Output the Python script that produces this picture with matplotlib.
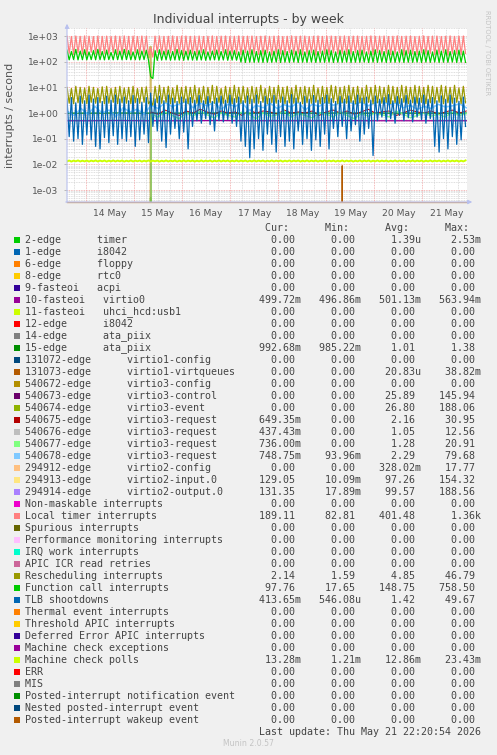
# Munin "Individual interrupts - by week" recreation
import matplotlib
matplotlib.use("Agg")
import matplotlib.pyplot as plt
from matplotlib.patches import Rectangle
import pandas as pd

W, H = 497, 755

# ---- data ----
start = "2026-05-13 14:30"
t_fast = pd.date_range(start, periods=182, freq="66min")
t_mid = pd.date_range(start, periods=58, freq="210min")
t_slow = pd.date_range(start, periods=17, freq="750min")

local_timer = [
    990, 210, 960, 190, 1000, 220, 970, 200, 1010, 180, 980, 230, 950, 200,
    1000, 190, 970, 210, 990, 200, 960, 220, 1000, 190, 980, 210, 1010, 200,
    970, 180, 990, 220, 960, 200, 1000, 210, 980, 190, 340, 150, 990, 230,
    1000, 200, 970, 190, 980, 220, 1010, 200, 960, 210, 990, 180, 1000, 200,
    970, 210, 990, 190, 1000, 220, 960, 200, 980, 210, 1010, 190, 970, 200,
    990, 220, 1000, 180, 960, 210, 980, 200, 1010, 190, 970, 220, 990, 200,
    1000, 210, 960, 190, 980, 200, 1010, 220, 970, 180, 990, 210, 1000, 200,
    960, 190, 980, 220, 1010, 200, 970, 210, 990, 190, 1000, 200, 960, 220,
    980, 180, 1010, 210, 970, 200, 990, 190, 1000, 220, 960, 200, 980, 210,
    1010, 190, 970, 200, 990, 220, 1000, 180, 960, 210, 980, 200, 1010, 190,
    970, 220, 990, 200, 1000, 210, 960, 190, 980, 200, 1010, 220, 970, 180,
    990, 210, 1000, 200, 960, 190, 980, 220, 1010, 200, 970, 210, 990, 190,
    1000, 200, 960, 220, 980, 180, 1010, 210, 970, 200, 990, 190, 1000, 210,
]

function_call = [
    280, 118, 250, 120, 300, 117, 260, 119, 290, 118, 240, 120, 270, 118,
    300, 119, 250, 117, 280, 120, 230, 118, 290, 119, 260, 118, 300, 120,
    270, 118, 240, 119, 290, 117, 260, 120, 280, 118, 26, 22, 270, 112,
    290, 115, 260, 117, 280, 114, 250, 116, 300, 115, 270, 113, 260, 116,
    280, 115, 250, 114, 270, 116, 290, 113, 240, 115, 260, 117, 280, 114,
    250, 116, 290, 113, 260, 115, 270, 114, 240, 96, 280, 93, 260, 95,
    290, 94, 250, 96, 270, 93, 280, 95, 240, 94, 260, 96, 290, 93,
    270, 95, 250, 94, 280, 96, 260, 93, 290, 95, 240, 94, 270, 96,
    280, 93, 250, 95, 260, 94, 290, 96, 270, 93, 240, 95, 280, 94,
    260, 96, 290, 93, 250, 95, 270, 94, 280, 96, 240, 93, 260, 95,
    290, 94, 270, 96, 250, 93, 280, 95, 260, 94, 240, 96, 290, 93,
    270, 95, 280, 94, 250, 96, 260, 93, 290, 95, 270, 94, 240, 96,
    280, 93, 260, 95, 290, 94, 250, 96, 270, 93, 280, 95, 260, 94,
]

rescheduling = [
    10, 2.4, 9, 2.3, 11, 2.5, 10, 2.4, 9.5, 2.3, 11, 2.6, 10, 2.4,
    9, 2.5, 10.5, 2.3, 11, 2.4, 9, 2.6, 10, 2.3, 11, 2.5, 9.5, 2.4,
    10, 2.3, 11, 2.5, 9, 2.4, 10, 2.6, 10.5, 2.3, 3, 2.0, 11, 2.5,
    12, 2.4, 10, 2.6, 11, 2.3, 9.5, 2.5, 12, 2.4, 10, 2.6, 11, 2.3,
    10, 2.5, 12, 2.4, 9.5, 2.6, 11, 2.3, 10, 2.5, 12, 2.4, 11, 2.6,
    9, 2.4, 11, 2.5, 10, 2.3, 12, 2.6, 10, 2.4, 11, 2.5, 9.5, 2.3,
    11, 2.5, 10, 2.4, 12, 2.6, 9, 2.3, 11, 2.5, 10, 2.4, 12, 2.6,
    10, 2.3, 11, 2.5, 9.5, 2.4, 12, 2.6, 10, 2.3, 11, 2.5, 10, 2.4,
    12, 2.6, 9.5, 2.3, 11, 2.5, 10, 2.4, 12, 2.6, 11, 2.3, 10, 2.5,
    11, 2.4, 12, 2.6, 10, 2.3, 11, 2.5, 9.5, 2.4, 12, 2.6, 10, 2.3,
    12, 2.5, 11, 2.4, 10, 2.6, 12, 2.3, 11, 2.5, 10, 2.4, 12, 2.6,
    11, 2.3, 10, 2.5, 12, 2.4, 11, 2.6, 10, 2.3, 12, 2.5, 11, 2.4,
    10, 2.6, 12, 2.3, 11, 2.5, 10, 2.4, 12, 2.6, 9.5, 2.3, 11, 2.5,
]

tlb_shootdowns = [
    3.5, 0.12, 4.0, 0.08, 2.5, 0.10, 4.5, 0.06, 3.0, 0.14, 5.0, 0.09, 3.5, 0.05,
    4.0, 0.04, 2.8, 0.11, 4.5, 0.07, 3.2, 0.13, 5.0, 0.06, 3.5, 0.10, 4.2, 0.08,
    3.0, 0.12, 4.8, 0.05, 3.6, 0.09, 2.6, 0.15, 4.0, 0.07, 6.0, 0.30, 3.5, 0.20,
    4.5, 0.08, 3.0, 0.045, 5.0, 0.15, 3.8, 0.25, 2.8, 0.10, 4.2, 0.18, 3.5, 0.04,
    4.0, 0.30, 3.2, 0.50, 4.8, 0.40, 3.0, 0.60, 4.4, 0.35, 2.8, 0.20, 3.8, 0.50,
    4.5, 0.45, 3.2, 0.55, 5.0, 0.40, 3.6, 0.30, 4.2, 0.08, 3.0, 0.05, 4.6, 0.018,
    3.4, 0.04, 5.0, 0.10, 2.8, 0.035, 4.4, 0.15, 3.6, 0.06, 4.8, 0.03, 3.2, 0.12,
    4.2, 0.05, 3.0, 0.08, 5.2, 0.04, 3.8, 0.20, 2.6, 0.06, 4.4, 0.10, 3.4, 0.035,
    4.8, 0.09, 3.2, 0.05, 4.0, 0.15, 5.0, 0.04, 3.6, 0.25, 2.8, 0.12, 4.4, 0.30,
    3.4, 0.10, 4.6, 0.20, 3.0, 0.35, 5.0, 0.08, 3.8, 0.15, 4.2, 0.25, 3.2, 0.022,
    4.6, 0.50, 3.4, 0.70, 4.0, 0.45, 5.2, 0.60, 3.0, 0.40, 4.4, 0.80, 3.6, 0.50,
    4.8, 0.65, 3.2, 0.45, 4.2, 0.70, 3.8, 0.55, 5.0, 0.40, 3.4, 0.60, 4.0, 0.05,
    3.0, 0.03, 4.6, 0.10, 3.4, 0.04, 5.0, 0.12, 3.8, 0.06, 2.8, 0.09, 4.2, 0.30,
]

mc_polls = [
    0.0130, 0.0141, 0.0128, 0.0140, 0.0131, 0.0142, 0.0129, 0.0139, 0.0130, 0.0141, 0.0128, 0.0140, 0.0131, 0.0142,
    0.0129, 0.0140, 0.0131, 0.0141, 0.0128, 0.0139, 0.0130, 0.0142, 0.0129, 0.0140, 0.0131, 0.0141, 0.0128, 0.0139,
    0.0130, 0.0142, 0.0129, 0.0140, 0.0131, 0.0141, 0.0128, 0.0139, 0.0130, 0.0142, 0.0129, 0.0140, 0.0131, 0.0141,
    0.0128, 0.0139, 0.0130, 0.0142, 0.0129, 0.0140, 0.0131, 0.0141, 0.0128, 0.0139, 0.0130, 0.0142, 0.0129, 0.0140,
    0.0131, 0.0141, 0.0128, 0.0139, 0.0130, 0.0142, 0.0129, 0.0140, 0.0131, 0.0141, 0.0128, 0.0139, 0.0130, 0.0142,
    0.0129, 0.0140, 0.0131, 0.0141, 0.0128, 0.0139, 0.0130, 0.0142, 0.0129, 0.0140, 0.0131, 0.0141, 0.0128, 0.0139,
    0.0130, 0.0142, 0.0129, 0.0140, 0.0131, 0.0141, 0.0128, 0.0139, 0.0130, 0.0142, 0.0129, 0.0140, 0.0131, 0.0141,
    0.0128, 0.0139, 0.0130, 0.0142, 0.0129, 0.0140, 0.0131, 0.0141, 0.0128, 0.0139, 0.0130, 0.0142, 0.0129, 0.0140,
    0.0131, 0.0141, 0.0128, 0.0139, 0.0130, 0.0142, 0.0129, 0.0140, 0.0131, 0.0141, 0.0128, 0.0139, 0.0130, 0.0142,
    0.0129, 0.0140, 0.0131, 0.0141, 0.0128, 0.0139, 0.0130, 0.0142, 0.0129, 0.0140, 0.0131, 0.0141, 0.0128, 0.0139,
    0.0130, 0.0142, 0.0129, 0.0140, 0.0131, 0.0141, 0.0128, 0.0139, 0.0130, 0.0142, 0.0129, 0.0140, 0.0131, 0.0141,
    0.0128, 0.0139, 0.0130, 0.0142, 0.0129, 0.0140, 0.0131, 0.0141, 0.0128, 0.0139, 0.0130, 0.0142, 0.0129, 0.0140,
    0.0131, 0.0141, 0.0128, 0.0139, 0.0130, 0.0142, 0.0129, 0.0140, 0.0131, 0.0141, 0.0128, 0.0139, 0.0130, 0.0142,
]

virtio3_req_4 = [  # 540678-edge (light blue)
    1.2, 0.8, 1.5, 0.9, 1.8, 1.0, 1.3, 0.7, 1.6, 1.1, 1.4, 0.9,
    2.0, 1.5, 2.5, 1.8, 2.2, 2.8, 1.6, 2.4, 1.9, 2.6, 1.4, 2.2, 1.8, 2.5, 1.2, 2.0, 1.6, 2.4,
    1.5, 2.1, 1.7, 2.6, 1.3, 2.2, 1.8, 2.7, 2.0, 2.4, 2.8, 2.2, 2.6, 1.9, 2.5, 2.9, 2.1, 2.4,
    1.6, 2.0, 1.4, 1.8, 1.5, 2.2, 1.7, 1.9, 2.3, 1.6,
]
virtio3_req_3 = [  # 540677-edge (light green)
    0, 0, 0, 0, 0, 0, 0, 0, 0, 0, 0, 0,
    0.9, 0.7, 1.1, 0.8, 0.6, 1.0, 0.75, 1.2, 0.85, 0.65, 1.0, 0.8, 0.7, 1.1, 0.9, 0.6, 1.0, 0.75,
    0.85, 1.2, 0.7, 0.95, 0.8, 0.65, 1.0, 0.9, 0.7, 1.1, 0.8, 0.6, 0.95, 0.75, 1.0, 0.85, 0.7, 1.2,
    0.9, 0.65, 0.8, 1.0, 0.75, 0.9, 0.7, 1.1, 0.8, 0.95,
]
virtio3_req_1 = [  # 540675-edge (dark red)
    0, 0, 0, 0, 0, 0, 0, 0, 0, 0, 0, 0,
    1.1, 0.9, 1.3, 1.0, 0.8, 1.2, 1.0, 1.4, 1.1, 0.9, 1.2, 1.0, 1.1, 0.8, 1.3, 1.0, 1.2, 1.1,
    0.9, 1.3, 1.0, 1.1, 1.0, 1.2, 0.8, 1.1, 1.3, 1.0, 1.2, 0.9, 1.1, 1.4, 1.0, 1.1, 1.2, 0.8,
    1.0, 1.3, 1.1, 1.0, 1.2, 0.9, 1.1, 1.3, 1.0, 1.2,
]
virtio0 = [0.50, 0.50, 0.51, 0.50, 0.50, 0.50, 0.51, 0.50, 0.50, 0.50, 0.50, 0.51, 0.50, 0.50, 0.50, 0.50, 0.50]
ata_piix_15 = [0.99, 0.99, 1.00, 0.99, 0.99, 0.99, 1.00, 0.99, 0.99, 0.99, 0.99, 1.00, 0.99, 0.99, 0.99, 0.99, 0.99]

# short bursts around the 15 May reboot and the 19 May virtqueue blip
reboot_times = pd.to_datetime(["2026-05-15 07:12", "2026-05-15 08:18", "2026-05-15 08:18"])
virtio3_event_burst = [150, 380, 0]
timer_times = pd.to_datetime(["2026-05-15 07:50", "2026-05-15 08:20", "2026-05-15 08:50"])
timer_burst = [0, 0.0005, 0]
virtq_times = pd.to_datetime(["2026-05-19 07:20", "2026-05-19 08:00", "2026-05-19 08:40"])
virtq_burst = [0, 0.0088, 0]

day_labels = ["14 May", "15 May", "16 May", "17 May", "18 May", "19 May", "20 May", "21 May"]
day_ticks = pd.date_range("2026-05-14 12:00", periods=8, freq="D")
y_ticks = [1e-3, 1e-2, 1e-1, 1e0, 1e1, 1e2, 1e3]
y_labels = ["1e-03", "1e-02", "1e-01", "1e+00", "1e+01", "1e+02", "1e+03"]

legend_labels = [
    "2-edge      timer", "1-edge      i8042", "6-edge      floppy", "8-edge      rtc0",
    "9-fasteoi   acpi", "10-fasteoi   virtio0", "11-fasteoi   uhci_hcd:usb1",
    "12-edge      i8042", "14-edge      ata_piix", "15-edge      ata_piix",
    "131072-edge      virtio1-config", "131073-edge      virtio1-virtqueues",
    "540672-edge      virtio3-config", "540673-edge      virtio3-control",
    "540674-edge      virtio3-event", "540675-edge      virtio3-request",
    "540676-edge      virtio3-request", "540677-edge      virtio3-request",
    "540678-edge      virtio3-request", "294912-edge      virtio2-config",
    "294913-edge      virtio2-input.0", "294914-edge      virtio2-output.0",
    "Non-maskable interrupts", "Local timer interrupts", "Spurious interrupts",
    "Performance monitoring interrupts", "IRQ work interrupts", "APIC ICR read retries",
    "Rescheduling interrupts", "Function call interrupts", "TLB shootdowns",
    "Thermal event interrupts", "Threshold APIC interrupts", "Deferred Error APIC interrupts",
    "Machine check exceptions", "Machine check polls", "ERR", "MIS",
    "Posted-interrupt notification event", "Nested posted-interrupt event",
    "Posted-interrupt wakeup event",
]
legend_colors = [
    "#00CC00", "#0066B3", "#FF8000", "#FFCC00", "#330099", "#990099", "#CCFF00", "#FF0000",
    "#808080", "#008F00", "#00487D", "#B35A00", "#B38F00", "#6B006B", "#8FB300", "#B30000",
    "#BEBEBE", "#80FF80", "#80C9FF", "#FFC080", "#FFE680", "#AA80FF", "#EE00CC", "#FF8080",
    "#666600", "#FFBFFF", "#00FFCC", "#CC6699", "#999900", "#00CC00", "#0066B3", "#FF8000",
    "#FFCC00", "#330099", "#990099", "#CCFF00", "#FF0000", "#808080", "#008F00", "#00487D",
    "#B35A00",
]
cur_vals = ["0.00", "0.00", "0.00", "0.00", "0.00", "499.72m", "0.00", "0.00", "0.00", "992.68m",
            "0.00", "0.00", "0.00", "0.00", "0.00", "649.35m", "437.43m", "736.00m", "748.75m", "0.00",
            "129.05", "131.35", "0.00", "189.11", "0.00", "0.00", "0.00", "0.00", "2.14", "97.76",
            "413.65m", "0.00", "0.00", "0.00", "0.00", "13.28m", "0.00", "0.00", "0.00", "0.00", "0.00"]
min_vals = ["0.00", "0.00", "0.00", "0.00", "0.00", "496.86m", "0.00", "0.00", "0.00", "985.22m",
            "0.00", "0.00", "0.00", "0.00", "0.00", "0.00", "0.00", "0.00", "93.96m", "0.00",
            "10.09m", "17.89m", "0.00", "82.81", "0.00", "0.00", "0.00", "0.00", "1.59", "17.65",
            "546.08u", "0.00", "0.00", "0.00", "0.00", "1.21m", "0.00", "0.00", "0.00", "0.00", "0.00"]
avg_vals = ["1.39u", "0.00", "0.00", "0.00", "0.00", "501.13m", "0.00", "0.00", "0.00", "1.01",
            "0.00", "20.83u", "0.00", "25.89", "26.80", "2.16", "1.05", "1.28", "2.29", "328.02m",
            "97.26", "99.57", "0.00", "401.48", "0.00", "0.00", "0.00", "0.00", "4.85", "148.75",
            "1.42", "0.00", "0.00", "0.00", "0.00", "12.86m", "0.00", "0.00", "0.00", "0.00", "0.00"]
max_vals = ["2.53m", "0.00", "0.00", "0.00", "0.00", "563.94m", "0.00", "0.00", "0.00", "1.38",
            "0.00", "38.82m", "0.00", "145.94", "188.06", "30.95", "12.56", "20.91", "79.68", "17.77",
            "154.32", "188.56", "0.00", "1.36k", "0.00", "0.00", "0.00", "0.00", "46.79", "758.50",
            "49.67", "0.00", "0.00", "0.00", "0.00", "23.43m", "0.00", "0.00", "0.00", "0.00", "0.00"]


def px(x, y):
    # pixel position (from top-left) -> figure fraction
    return x / W, 1 - y / H


fig = plt.figure(figsize=(W / 100, H / 100), dpi=100, facecolor="#f0f0f0")
ax = fig.add_axes([67 / W, 1 - 202 / H, 400 / W, 174 / H])
ax.set_facecolor("white")
ax.set_yscale("log")
ymin, ymax = 3.41e-4, 2050
ax.set_ylim(ymin, ymax)
ax.set_xlim(pd.Timestamp("2026-05-13 14:30"), pd.Timestamp("2026-05-21 22:20"))

# rrdtool style grid
grid_minor = "#d4d4d4"
grid_major = "#f2a3a3"
for e in range(-4, 4):
    for s in range(1, 10):
        v = s * 10.0 ** e
        if ymin < v < ymax:
            ax.axhline(v, color=grid_major if s == 1 else grid_minor,
                       lw=0.6, ls=(0, (1, 1)), zorder=0.5)
for g in pd.date_range("2026-05-13 18:00", "2026-05-21 18:00", freq="6h"):
    ax.axvline(g, color=grid_major if g.hour == 0 else grid_minor,
               lw=0.6, ls=(0, (1, 1)), zorder=0.5)

lw = 0.9
# drawn in munin field order
ax.plot(timer_times, timer_burst, color="#00CC00", lw=1.2, zorder=2)
ax.plot(t_slow, virtio0, color="#990099", lw=lw, zorder=2)
ax.plot(t_slow, ata_piix_15, color="#008F00", lw=lw, zorder=2)
ax.plot(virtq_times, virtq_burst, color="#B35A00", lw=lw, zorder=2)
ax.plot(reboot_times, virtio3_event_burst, color="#B38F00", alpha=0.6, lw=1.6, zorder=2)
ax.plot(t_mid, virtio3_req_1, color="#B30000", lw=0.7, zorder=2)
ax.plot(t_mid, virtio3_req_3, color="#80FF80", lw=lw, zorder=2)
ax.plot(t_mid, virtio3_req_4, color="#80C9FF", lw=1.1, zorder=2)
ax.plot(t_fast, local_timer, color="#FF8080", lw=lw, zorder=2)
ax.plot(t_fast, rescheduling, color="#999900", lw=lw, zorder=2)
ax.plot(t_fast, function_call, color="#00CC00", lw=lw, zorder=2)
ax.plot(t_fast, tlb_shootdowns, color="#0066B3", lw=lw, zorder=2)
ax.plot(t_fast, mc_polls, color="#CCFF00", lw=1.4, zorder=2)
# all-zero fields sit on the bottom edge
ax.axhline(ymin, color="#B35A00", alpha=0.55, lw=1.0, zorder=3, clip_on=False)

for sp in ax.spines.values():
    sp.set_visible(False)
ax.set_yticks(y_ticks)
ax.set_yticklabels(y_labels)
ax.yaxis.set_minor_locator(matplotlib.ticker.NullLocator())
ax.set_xticks(day_ticks)
ax.set_xticklabels(day_labels)
ax.tick_params(axis="y", length=2, width=0.6, color="#b0b0b0", pad=4,
               labelsize=6.6, labelcolor="#555555")
ax.tick_params(axis="x", length=0, pad=5, labelsize=6.6, labelcolor="#555555")

# axis arrows
arrow = dict(arrowstyle="-|>", color="#b8c0ee", lw=0.8, mutation_scale=6)
ax.annotate("", xy=(67, H - 21), xytext=(67, H - 205), xycoords="figure pixels",
            textcoords="figure pixels", arrowprops=arrow, annotation_clip=False)
ax.annotate("", xy=(475, H - 202), xytext=(63, H - 202), xycoords="figure pixels",
            textcoords="figure pixels", arrowprops=arrow, annotation_clip=False)

fig.text(*px(248.5, 19), "Individual interrupts - by week", ha="center", va="center",
         fontsize=9, color="#444444")
fig.text(*px(10, 115), "interrupts / second", rotation=90, ha="center", va="center",
         fontsize=8, color="#555555")
fig.text(*px(487, 53), "RRDTOOL / TOBI OETIKER", rotation=270, ha="center", va="center",
         fontsize=4.8, color="#c4c4c4")

# legend table
mono = "DejaVu Sans Mono"
leg_size = 7.18
leg_color = "#444444"


def field(s):
    if s[-1].isalpha():
        return s[:-1].rjust(6) + s[-1]
    return s.rjust(6) + " "


fig.text(*px(25, 228), " " * 40 + "Cur:" + " " * 6 + "Min:" + " " * 6 + "Avg:" + " " * 6 + "Max:",
         family=mono, fontsize=leg_size, color=leg_color, va="center")
for k, lab in enumerate(legend_labels):
    y = 240 + 12 * k
    x0, y0 = px(14, y + 3)
    fig.add_artist(Rectangle((x0, y0), 6 / W, 6 / H, transform=fig.transFigure,
                             facecolor=legend_colors[k], edgecolor="none"))
    row = (lab.ljust(39) + field(cur_vals[k]) + "   " + field(min_vals[k]) + "   "
           + field(avg_vals[k]) + "   " + field(max_vals[k]))
    fig.text(*px(25, y), row, family=mono, fontsize=leg_size, color=leg_color, va="center")

fig.text(*px(25, 732), " " * 39 + "Last update: Thu May 21 22:20:54 2026",
         family=mono, fontsize=leg_size, color=leg_color, va="center")
fig.text(*px(248, 744), "Munin 2.0.57", ha="center", va="center", fontsize=5.6, color="#c4c4c4")

fig.savefig("out.png", dpi=100, facecolor=fig.get_facecolor())
